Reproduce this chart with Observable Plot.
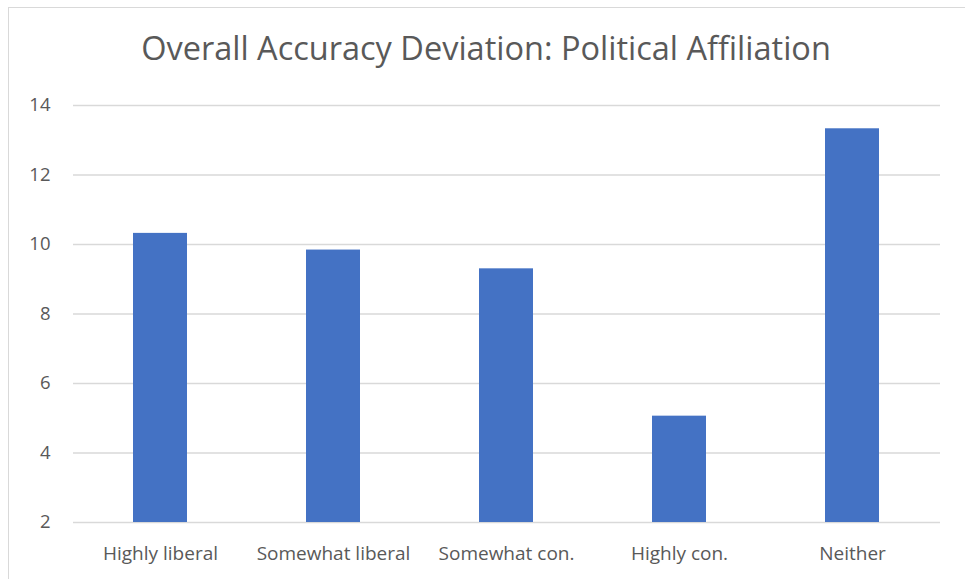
<!DOCTYPE html>
<html>
<head>
<meta charset="utf-8">
<script src="https://cdn.jsdelivr.net/npm/d3@7"></script>
<script src="https://cdn.jsdelivr.net/npm/@observablehq/plot@0.6"></script>
<style>
  html, body { margin: 0; padding: 0; background: #fff; }
  #wrap { position: relative; width: 965px; height: 579px; overflow: hidden; }
  #frame { position: absolute; left: 8px; top: 7px; width: 970px; height: 590px; border: 1px solid #d9d9d9; box-sizing: border-box; }
  #title { position: absolute; left: 0; top: 28px; width: 972px; text-align: center; line-height: 1.2;
           font-family: "Open Sans", sans-serif; font-weight: 400; font-size: 32.5px; color: #595959; white-space: nowrap; }
  #chart { position: absolute; left: 0; top: 0; }
</style>
</head>
<body>
<div id="wrap">
  <div id="frame"></div>
  <div id="title">Overall Accuracy Deviation: Political Affiliation</div>
  <div id="chart"></div>
</div>
<script>
const categories = ["Highly liberal", "Somewhat liberal", "Somewhat con.", "Highly con.", "Neither"];
const values = [10.32, 9.84, 9.30, 5.06, 13.33];
const yTicks = [2, 4, 6, 8, 10, 12, 14];

const data = categories.map((c, i) => ({category: c, value: values[i]}));

const plot = Plot.plot({
  width: 965,
  height: 579,
  marginLeft: 73,
  marginRight: 25,
  marginTop: 105,
  marginBottom: 57,
  style: {fontFamily: "'Open Sans', sans-serif", fontSize: "18px", color: "#595959", background: "transparent"},
  x: {domain: categories, paddingInner: 0.686, paddingOuter: 0.343, label: null},
  y: {domain: [2, 14], ticks: yTicks, label: null},
  marks: [
    Plot.gridY(yTicks, {stroke: "#d9d9d9", strokeOpacity: 1, strokeWidth: 1.3}),
    Plot.barY(data, {x: "category", y1: 2, y2: "value", fill: "#4472C4"}),
    Plot.axisY(yTicks, {tickSize: 0, tickPadding: 23, fontSize: 18.5, fill: "#595959"}),
    Plot.axisX({tickSize: 0, tickPadding: 24, fontSize: 19, fill: "#595959"})
  ]
});
document.getElementById("chart").appendChild(plot);
</script>
</body>
</html>
